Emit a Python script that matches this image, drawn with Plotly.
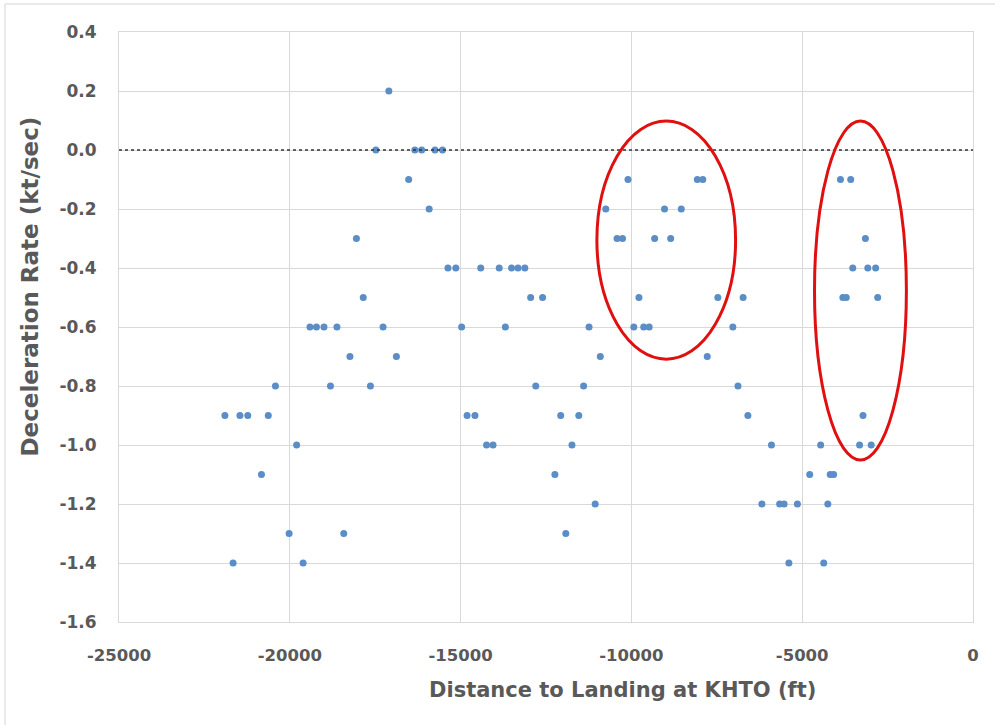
import plotly.graph_objects as go

# Deceleration rate samples (kt/sec) against distance to landing (ft), grouped by rate level
distance_ft = [
    -17100,                                                     # 0.2
    -17480, -16340, -16140, -15750, -15530,                     # 0.0
    -16520, -10100, -8070, -7910, -3880, -3580,                 # -0.1
    -15920, -10750, -9030, -8540,                               # -0.2
    -18050, -10420, -10260, -9320, -8850, -3150,                # -0.3
    -15370, -15140, -14410, -13870, -13510, -13320, -13120,
    -3520, -3080, -2850,                                        # -0.4
    -17850, -12950, -12600, -9780, -7470, -6730, -3810, -3710,
    -2790,                                                      # -0.5
    -19410, -19220, -19000, -18620, -17270, -14970, -13690,
    -11240, -9930, -9640, -9480, -7030,                         # -0.6
    -18240, -16880, -10910, -7780,                              # -0.7
    -20420, -18810, -17640, -12800, -11400, -6880,              # -0.8
    -21900, -21460, -21230, -20630, -14810, -14580, -12070,
    -11540, -6590, -3220,                                       # -0.9
    -19800, -14240, -14050, -11740, -5900, -4460, -3320, -2980, # -1.0
    -20830, -12240, -4780, -4180, -4080,                        # -1.1
    -11060, -6180, -5660, -5530, -5140, -4250,                  # -1.2
    -20020, -18420, -11920,                                     # -1.3
    -21660, -19610, -5390, -4370,                               # -1.4
]

decel_rate = (
    [0.2] * 1 + [0.0] * 5 + [-0.1] * 6 + [-0.2] * 4 + [-0.3] * 6
    + [-0.4] * 10 + [-0.5] * 9 + [-0.6] * 12 + [-0.7] * 4 + [-0.8] * 6
    + [-0.9] * 10 + [-1.0] * 8 + [-1.1] * 5 + [-1.2] * 6 + [-1.3] * 3
    + [-1.4] * 4
)

x_tick_vals = [-25000, -20000, -15000, -10000, -5000, 0]
x_tick_text = ["-25000", "-20000", "-15000", "-10000", "-5000", "0"]
y_tick_vals = [0.4, 0.2, 0.0, -0.2, -0.4, -0.6, -0.8, -1.0, -1.2, -1.4, -1.6]
y_tick_text = ["0.4", "0.2", "0.0", "-0.2", "-0.4", "-0.6", "-0.8", "-1.0",
               "-1.2", "-1.4", "-1.6"]

# Highlighted clusters: (x0, x1, y0, y1)
highlight_regions = [
    (-11010, -6950, -0.709, 0.098),
    (-4640, -1950, -1.051, 0.098),
]

GRAY_TEXT = "#595959"
GRID = "#D9D9D9"

fig = go.Figure()
fig.add_trace(go.Scatter(
    x=distance_ft, y=decel_rate, mode="markers",
    marker=dict(size=7, color="#5B8DC6"),
    showlegend=False, hoverinfo="x+y",
))

shapes = [
    # zero reference line
    dict(type="line", xref="paper", yref="y", x0=0, x1=1, y0=0, y1=0,
         line=dict(color="#333333", width=1.5, dash="dot"), layer="above"),
    # chart frame (top and left edges)
    dict(type="line", xref="paper", yref="paper", x0=-0.1335, x1=1.05,
         y0=1.0475, y1=1.0475, line=dict(color="#E3E3E3", width=1.5)),
    dict(type="line", xref="paper", yref="paper", x0=-0.1335, x1=-0.1335,
         y0=1.0475, y1=-0.2, line=dict(color="#E3E3E3", width=1.5)),
]
for x0, x1, y0, y1 in highlight_regions:
    shapes.append(dict(type="circle", xref="x", yref="y", x0=x0, x1=x1,
                       y0=y0, y1=y1, line=dict(color="#E01010", width=3)))

tick_font = dict(family="DejaVu Sans", size=17, color=GRAY_TEXT, weight="bold")
xtick_font = dict(family="DejaVu Sans", size=16.5, color=GRAY_TEXT, weight="bold")
xtitle_font = dict(family="DejaVu Sans", size=21, color=GRAY_TEXT, weight="bold")
ytitle_font = dict(family="DejaVu Sans", size=23, color=GRAY_TEXT, weight="bold")

fig.update_layout(
    width=995, height=725,
    margin=dict(l=119, r=22, t=32, b=103),
    paper_bgcolor="white", plot_bgcolor="white",
    shapes=shapes,
    xaxis=dict(
        range=[-25000, 0], tickvals=x_tick_vals, ticktext=x_tick_text,
        showgrid=True, gridcolor=GRID, gridwidth=1, zeroline=False,
        showline=True, linecolor=GRID, linewidth=1, mirror=True,
        tickfont=xtick_font, ticklabelstandoff=18,
    ),
    yaxis=dict(
        range=[-1.6, 0.4], tickvals=y_tick_vals, ticktext=y_tick_text,
        showgrid=True, gridcolor=GRID, gridwidth=1, zeroline=False,
        showline=True, linecolor=GRID, linewidth=1, mirror=True,
        tickfont=tick_font, ticklabelstandoff=18,
    ),
    annotations=[
        dict(text="Distance to Landing at KHTO (ft)", xref="paper", yref="paper",
             x=0.589, y=-0.115, showarrow=False, font=xtitle_font,
             xanchor="center", yanchor="middle"),
        dict(text="Deceleration Rate (kt/sec)", xref="paper", yref="paper",
             x=-0.104, y=0.569, showarrow=False, font=ytitle_font, textangle=-90,
             xanchor="center", yanchor="middle"),
    ],
)

fig.write_html("out.html")
